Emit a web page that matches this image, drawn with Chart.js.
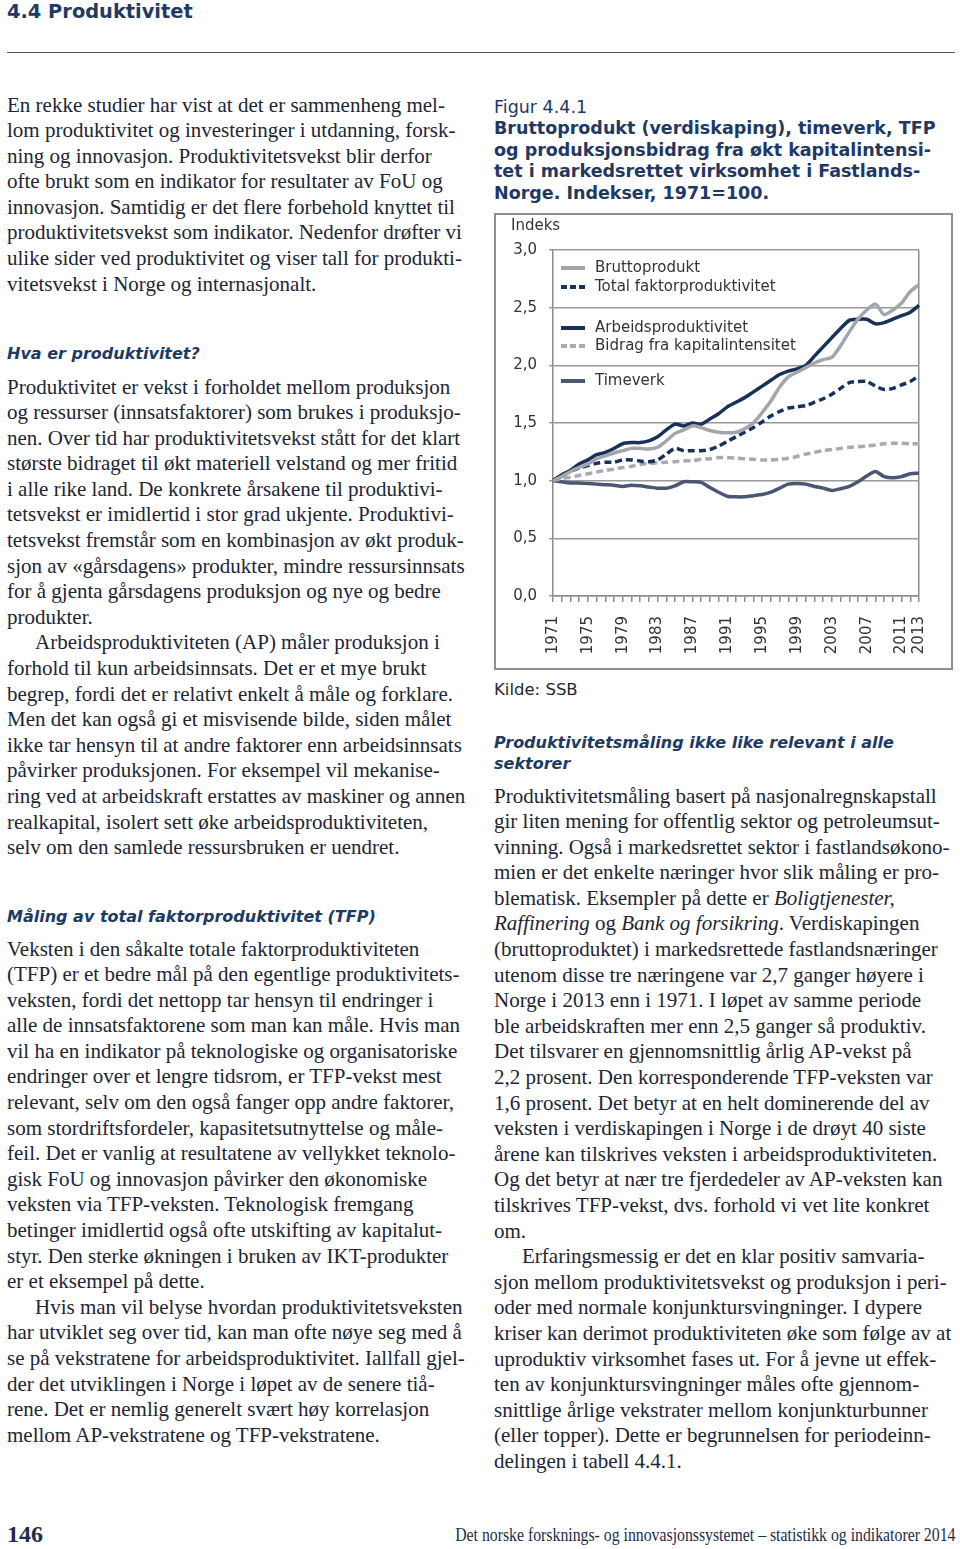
<!DOCTYPE html>
<html lang="no">
<head>
<meta charset="UTF-8">
<title>4.4 Produktivitet</title>
<script src="https://cdn.jsdelivr.net/npm/chart.js@4.4.1/dist/chart.umd.min.js"></script>
<style>
  body { margin: 0; background: #fff; }
  #page { position: relative; width: 960px; height: 1549px; overflow: hidden; }
  .sans { font-family: "DejaVu Sans", Verdana, sans-serif; }
  .h1 { position: absolute; left: 7px; top: 0; font-size: 19.4px; line-height: 23px; font-weight: bold; color: #1f3a63; }
  .rule { position: absolute; left: 7px; top: 52px; width: 948px; height: 0; border-top: 1.5px solid #4b5b63; }
  .col { position: absolute; font-family: "Liberation Serif", "Times New Roman", serif;
         font-size: 21px; line-height: 25.6px; color: #1c2636; }
  .col div { white-space: nowrap; }
  .col div.in { text-indent: 28px; }
  .sub { position: absolute; font-size: 16px; font-weight: bold; font-style: italic; color: #1c3a63; line-height: 21px; }
  .fig { position: absolute; left: 494px; top: 97px; font-size: 17.5px; line-height: 21.4px; color: #1f3864; }
  .fig b { font-weight: bold; }
  #box { position: absolute; left: 494px; top: 213px; width: 455px; height: 453px; border: 2px solid #8a9298; }
  .src { position: absolute; left: 494px; top: 680px; font-size: 16.5px; color: #1f2633; }
  .pnum { position: absolute; left: 7px; top: 1521px; font-family: "Liberation Serif", serif; font-weight: bold; font-size: 24px; color: #1c2d48; }
  .foot { position: absolute; right: 5px; top: 1525px; font-family: "Liberation Serif", serif; font-size: 18px;
          color: #1c2d48; white-space: nowrap; transform: scaleX(0.877); transform-origin: right top; }
</style>
</head>
<body>
<div id="page">
  <div class="h1 sans">4.4 Produktivitet</div>
  <div class="rule"></div>

  <div class="col" style="left:7px; top:92.5px; width:455px;">
    <div>En rekke studier har vist at det er sammenheng mel-</div>
    <div>lom produktivitet og investeringer i utdanning, forsk-</div>
    <div>ning og innovasjon. Produktivitetsvekst blir derfor</div>
    <div>ofte brukt som en indikator for resultater av FoU og</div>
    <div>innovasjon. Samtidig er det flere forbehold knyttet til</div>
    <div>produktivitetsvekst som indikator. Nedenfor drøfter vi</div>
    <div>ulike sider ved produktivitet og viser tall for produkti-</div>
    <div>vitetsvekst i Norge og internasjonalt.</div>
  </div>

  <div class="sub sans" style="left:7px; top:343px;">Hva er produktivitet?</div>

  <div class="col" style="left:7px; top:374.5px; width:455px;">
    <div>Produktivitet er vekst i forholdet mellom produksjon</div>
    <div>og ressurser (innsatsfaktorer) som brukes i produksjo-</div>
    <div>nen. Over tid har produktivitetsvekst stått for det klart</div>
    <div>største bidraget til økt materiell velstand og mer fritid</div>
    <div>i alle rike land. De konkrete årsakene til produktivi-</div>
    <div>tetsvekst er imidlertid i stor grad ukjente. Produktivi-</div>
    <div>tetsvekst fremstår som en kombinasjon av økt produk-</div>
    <div>sjon av «gårsdagens» produkter, mindre ressursinnsats</div>
    <div>for å gjenta gårsdagens produksjon og nye og bedre</div>
    <div>produkter.</div>
    <div class="in">Arbeidsproduktiviteten (AP) måler produksjon i</div>
    <div>forhold til kun arbeidsinnsats. Det er et mye brukt</div>
    <div>begrep, fordi det er relativt enkelt å måle og forklare.</div>
    <div>Men det kan også gi et misvisende bilde, siden målet</div>
    <div>ikke tar hensyn til at andre faktorer enn arbeidsinnsats</div>
    <div>påvirker produksjonen. For eksempel vil mekanise-</div>
    <div>ring ved at arbeidskraft erstattes av maskiner og annen</div>
    <div>realkapital, isolert sett øke arbeidsproduktiviteten,</div>
    <div>selv om den samlede ressursbruken er uendret.</div>
  </div>

  <div class="sub sans" style="left:7px; top:906px;">Måling av total faktorproduktivitet (TFP)</div>

  <div class="col" style="left:7px; top:936.5px; width:455px;">
    <div>Veksten i den såkalte totale faktorproduktiviteten</div>
    <div>(TFP) er et bedre mål på den egentlige produktivitets-</div>
    <div>veksten, fordi det nettopp tar hensyn til endringer i</div>
    <div>alle de innsatsfaktorene som man kan måle. Hvis man</div>
    <div>vil ha en indikator på teknologiske og organisatoriske</div>
    <div>endringer over et lengre tidsrom, er TFP-vekst mest</div>
    <div>relevant, selv om den også fanger opp andre faktorer,</div>
    <div>som stordriftsfordeler, kapasitetsutnyttelse og måle-</div>
    <div>feil. Det er vanlig at resultatene av vellykket teknolo-</div>
    <div>gisk FoU og innovasjon påvirker den økonomiske</div>
    <div>veksten via TFP-veksten. Teknologisk fremgang</div>
    <div>betinger imidlertid også ofte utskifting av kapitalut-</div>
    <div>styr. Den sterke økningen i bruken av IKT-produkter</div>
    <div>er et eksempel på dette.</div>
    <div class="in">Hvis man vil belyse hvordan produktivitetsveksten</div>
    <div>har utviklet seg over tid, kan man ofte nøye seg med å</div>
    <div>se på vekstratene for arbeidsproduktivitet. Iallfall gjel-</div>
    <div>der det utviklingen i Norge i løpet av de senere tiå-</div>
    <div>rene. Det er nemlig generelt svært høy korrelasjon</div>
    <div>mellom AP-vekstratene og TFP-vekstratene.</div>
  </div>

  <div class="fig sans">
    Figur 4.4.1<br>
    <b>Bruttoprodukt (verdiskaping), timeverk, TFP<br>
    og produksjonsbidrag fra økt kapitalintensi-<br>
    tet i markedsrettet virksomhet i Fastlands-<br>
    Norge. Indekser, 1971=100.</b>
  </div>

  <div id="box"><canvas id="chart" width="455" height="453"></canvas></div>

  <div class="src sans">Kilde: SSB</div>

  <div class="sub sans" style="left:494px; top:732px;">Produktivitetsmåling ikke like relevant i alle<br>sektorer</div>

  <div class="col" style="left:494px; top:783.5px; width:459px;">
    <div>Produktivitetsmåling basert på nasjonalregnskapstall</div>
    <div>gir liten mening for offentlig sektor og petroleumsut-</div>
    <div>vinning. Også i markedsrettet sektor i fastlandsøkono-</div>
    <div>mien er det enkelte næringer hvor slik måling er pro-</div>
    <div>blematisk. Eksempler på dette er <i>Boligtjenester,</i></div>
    <div><i>Raffinering</i> og <i>Bank og forsikring</i>. Verdiskapingen</div>
    <div>(bruttoproduktet) i markedsrettede fastlandsnæringer</div>
    <div>utenom disse tre næringene var 2,7 ganger høyere i</div>
    <div>Norge i 2013 enn i 1971. I løpet av samme periode</div>
    <div>ble arbeidskraften mer enn 2,5 ganger så produktiv.</div>
    <div>Det tilsvarer en gjennomsnittlig årlig AP-vekst på</div>
    <div>2,2 prosent. Den korresponderende TFP-veksten var</div>
    <div>1,6 prosent. Det betyr at en helt dominerende del av</div>
    <div>veksten i verdiskapingen i Norge i de drøyt 40 siste</div>
    <div>årene kan tilskrives veksten i arbeidsproduktiviteten.</div>
    <div>Og det betyr at nær tre fjerdedeler av AP-veksten kan</div>
    <div>tilskrives TFP-vekst, dvs. forhold vi vet lite konkret</div>
    <div>om.</div>
    <div class="in">Erfaringsmessig er det en klar positiv samvaria-</div>
    <div>sjon mellom produktivitetsvekst og produksjon i peri-</div>
    <div>oder med normale konjunktursvingninger. I dypere</div>
    <div>kriser kan derimot produktiviteten øke som følge av at</div>
    <div>uproduktiv virksomhet fases ut. For å jevne ut effek-</div>
    <div>ten av konjunktursvingninger måles ofte gjennom-</div>
    <div>snittlige årlige vekstrater mellom konjunkturbunner</div>
    <div>(eller topper). Dette er begrunnelsen for periodeinn-</div>
    <div>delingen i tabell 4.4.1.</div>
  </div>

  <div class="pnum">146</div>
  <div class="foot">Det norske forsknings- og innovasjonssystemet – statistikk og indikatorer 2014</div>
</div>

<script>
const years = ['1971','1972','1973','1974','1975','1976','1977','1978','1979','1980',
               '1981','1982','1983','1984','1985','1986','1987','1988','1989','1990',
               '1991','1992','1993','1994','1995','1996','1997','1998','1999','2000',
               '2001','2002','2003','2004','2005','2006','2007','2008','2009','2010',
               '2011','2012','2013'];
const shownYears = ['1971','1975','1979','1983','1987','1991','1995','1999','2003','2007','2011','2013'];

const bruttoprodukt = [1.00,1.035,1.08,1.115,1.145,1.19,1.215,1.24,1.26,1.28,
                       1.28,1.275,1.29,1.345,1.41,1.44,1.475,1.46,1.435,1.42,
                       1.415,1.42,1.45,1.50,1.59,1.69,1.81,1.90,1.94,1.98,
                       2.02,2.05,2.07,2.17,2.29,2.40,2.48,2.53,2.44,2.48,
                       2.54,2.64,2.70];
const tfp = [1.00,1.05,1.08,1.11,1.13,1.15,1.16,1.16,1.18,1.18,
             1.17,1.165,1.18,1.23,1.28,1.26,1.26,1.26,1.27,1.30,
             1.34,1.38,1.42,1.46,1.51,1.56,1.60,1.63,1.64,1.65,
             1.68,1.71,1.75,1.80,1.85,1.86,1.86,1.82,1.79,1.80,
             1.83,1.86,1.91];
const arbeidsproduktivitet = [1.00,1.05,1.09,1.145,1.18,1.225,1.245,1.28,1.32,1.33,
                              1.33,1.345,1.38,1.44,1.49,1.475,1.50,1.49,1.535,1.58,
                              1.64,1.68,1.72,1.77,1.82,1.87,1.92,1.95,1.97,2.00,
                              2.08,2.16,2.24,2.32,2.39,2.40,2.40,2.36,2.37,2.40,
                              2.43,2.46,2.52];
const kapitalintensitet = [1.00,1.02,1.03,1.045,1.06,1.075,1.09,1.10,1.115,1.125,
                           1.14,1.15,1.155,1.16,1.165,1.17,1.175,1.185,1.19,1.20,
                           1.20,1.195,1.19,1.185,1.18,1.18,1.185,1.195,1.21,1.23,
                           1.245,1.26,1.27,1.28,1.29,1.295,1.30,1.31,1.32,1.325,
                           1.325,1.32,1.32];
const timeverk = [1.00,0.99,0.98,0.98,0.975,0.97,0.965,0.96,0.95,0.96,
                  0.955,0.945,0.935,0.935,0.955,0.99,0.99,0.985,0.94,0.90,
                  0.865,0.86,0.86,0.87,0.88,0.90,0.935,0.97,0.975,0.97,
                  0.95,0.935,0.915,0.93,0.95,0.99,1.04,1.08,1.035,1.025,
                  1.035,1.06,1.065];

Chart.defaults.font.family = "'DejaVu Sans', Verdana, sans-serif";
Chart.defaults.font.size = 15;
Chart.defaults.color = '#333';

// legend rows sit inside the plot, with gaps between the groups
const legendRows = [
  { ds: 0, dy: 18 }, { ds: 1, dy: 37 },
  { ds: 2, dy: 78 }, { ds: 3, dy: 96 },
  { ds: 4, dy: 131 }
];

const boxLegend = {
  id: 'boxLegend',
  afterDraw(chart) {
    const { ctx, chartArea } = chart;
    ctx.save();
    ctx.font = "15px 'DejaVu Sans'";
    ctx.fillStyle = '#333';
    ctx.textBaseline = 'middle';
    ctx.fillText('Indeks', chartArea.left - 42, chartArea.top - 24);
    legendRows.forEach(r => {
      const ds = chart.data.datasets[r.ds];
      const y = chartArea.top + r.dy;
      ctx.strokeStyle = ds.borderColor;
      ctx.lineWidth = 4;
      ctx.setLineDash(ds.borderDash ? [6, 3] : []);
      ctx.beginPath();
      ctx.moveTo(chartArea.left + 8, y);
      ctx.lineTo(chartArea.left + 32, y);
      ctx.stroke();
      ctx.setLineDash([]);
      ctx.fillText(ds.label, chartArea.left + 42, y);
    });
    ctx.restore();
  }
};

const ctx = document.getElementById('chart').getContext('2d');
new Chart(ctx, {
  type: 'line',
  data: {
    labels: years,
    datasets: [
      { label: 'Bruttoprodukt', data: bruttoprodukt, borderColor: '#a2a5ab' },
      { label: 'Total faktorproduktivitet', data: tfp, borderColor: '#18315a', borderDash: [7, 4] },
      { label: 'Arbeidsproduktivitet', data: arbeidsproduktivitet, borderColor: '#18315a' },
      { label: 'Bidrag fra kapitalintensitet', data: kapitalintensitet, borderColor: '#a7a9b6', borderDash: [7, 4] },
      { label: 'Timeverk', data: timeverk, borderColor: '#4c5673' }
    ]
  },
  options: {
    responsive: false,
    animation: false,
    layout: { padding: { top: 35, right: 16, left: 0, bottom: 0 } },
    elements: {
      point: { radius: 0 },
      line: { borderWidth: 3.5, tension: 0.25, fill: false, borderJoinStyle: 'round' }
    },
    plugins: { legend: { display: false }, tooltip: { enabled: false } },
    scales: {
      x: {
        grid: {
          color: c => c.index === years.length - 1 ? '#8c8c8c' : 'rgba(0,0,0,0)',
          tickColor: '#8c8c8c',
          tickLength: 6,
          lineWidth: 1.5
        },
        border: { color: '#8c8c8c', width: 1.5 },
        ticks: {
          autoSkip: false, maxRotation: 90, minRotation: 90, padding: 14,
          callback: function (v) {
            const l = this.getLabelForValue(v);
            return shownYears.includes(l) ? l : '';
          }
        },
        afterFit: s => { s.height = 72; }
      },
      y: {
        min: 0, max: 3,
        ticks: { stepSize: 0.5, padding: 12, callback: v => v.toFixed(1).replace('.', ',') },
        grid: { color: '#9a9a9a', lineWidth: 1.5, tickLength: 4 },
        border: { color: '#8c8c8c', width: 1.5 },
        afterFit: s => { s.width = 57; }
      }
    }
  },
  plugins: [boxLegend]
});
</script>
</body>
</html>
